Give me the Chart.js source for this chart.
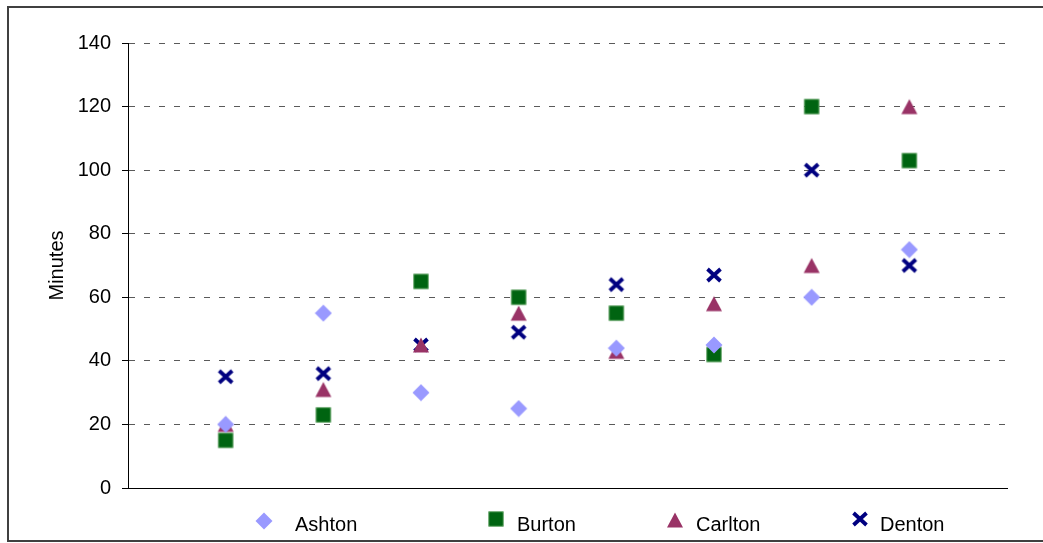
<!DOCTYPE html>
<html>
<head>
<meta charset="utf-8">
<title>Minutes by location</title>
<script src="https://cdn.jsdelivr.net/npm/chart.js@4/dist/chart.umd.min.js"></script>
<style>
  html, body { margin: 0; padding: 0; background: #ffffff; overflow: hidden; }
  #wrap { position: relative; width: 1043px; height: 543px; }
  canvas { display: block; }
</style>
</head>
<body>
<div id="wrap"><canvas id="chart" width="1043" height="543"></canvas></div>
<script>
// Eight observation slots along the x axis (no labels are shown for them)
const categories = [1, 2, 3, 4, 5, 6, 7, 8];

// Minutes recorded for each person
const ashton  = [20, 55, 30, 25, 44, 45, 60, 75];
const burton  = [15, 23, 65, 60, 55, 42, 120, 103];
const carlton = [20, 31, 45, 55, 43, 58, 70, 120];
const denton  = [35, 36, 45, 49, 64, 67, 100, 70];

// Y axis tick values
const yTicks = [0, 20, 40, 60, 80, 100, 120, 140];

const seriesNames = ['Ashton', 'Burton', 'Carlton', 'Denton'];
const seriesValues = [ashton, burton, carlton, denton];
const seriesColors = ['#9999ff', '#006411', '#993366', '#000080'];

// Marker glyphs, drawn once into small canvases
function makeMarker(kind, color) {
  const c = document.createElement('canvas');
  c.width = 18; c.height = 18;
  const g = c.getContext('2d');
  const m = 9;
  g.fillStyle = color;
  g.strokeStyle = color;
  if (kind === 'diamond') {
    g.beginPath();
    g.moveTo(m, m - 8.5); g.lineTo(m + 8.5, m); g.lineTo(m, m + 8.5); g.lineTo(m - 8.5, m);
    g.closePath(); g.fill();
  } else if (kind === 'square') {
    g.fillRect(m - 7.5, m - 7.5, 15, 15);
    g.strokeStyle = 'rgba(120,180,120,0.8)';
    g.lineWidth = 1;
    g.strokeRect(m - 7, m - 7, 14, 14);
    g.fillRect(m - 6.5, m - 6.5, 13, 13);
  } else if (kind === 'triangle') {
    g.beginPath();
    g.moveTo(m, m - 7.5); g.lineTo(m + 8, m + 7.5); g.lineTo(m - 8, m + 7.5);
    g.closePath(); g.fill();
  } else if (kind === 'cross') {
    g.lineWidth = 3.8;
    g.lineCap = 'butt';
    g.beginPath();
    g.moveTo(m - 6.5, m - 6); g.lineTo(m + 6.5, m + 6);
    g.moveTo(m + 6.5, m - 6); g.lineTo(m - 6.5, m + 6);
    g.stroke();
  }
  return c;
}
const markerKinds = ['diamond', 'square', 'triangle', 'cross'];
const markers = markerKinds.map((k, i) => makeMarker(k, seriesColors[i]));

const datasets = seriesNames.map((name, i) => ({
  label: name,
  data: seriesValues[i].map((v, j) => ({ x: categories[j], y: v })),
  pointStyle: markers[i],
  pointRadius: 8,
  pointHoverRadius: 8,
  backgroundColor: seriesColors[i],
  borderColor: seriesColors[i],
  showLine: false
}));

// Outer frame around the whole chart
const framePlugin = {
  id: 'frame',
  beforeDraw(chart) {
    const ctx = chart.ctx;
    ctx.save();
    ctx.fillStyle = '#ffffff';
    ctx.fillRect(0, 0, chart.width, chart.height);
    ctx.strokeStyle = '#404040';
    ctx.lineWidth = 2;
    ctx.strokeRect(8, 7, chart.width + 20, 534);
    ctx.restore();
  }
};

// Legend row below the plot
const legendRow = {
  id: 'legendRow',
  afterDraw(chart) {
    const ctx = chart.ctx;
    const markerX = [264, 496, 675, 860];
    const markerY = [521, 519, 520, 519];
    const textX = [295, 517, 696, 880];
    ctx.save();
    ctx.font = '20px "Liberation Sans", Arial, sans-serif';
    ctx.fillStyle = '#000000';
    ctx.textAlign = 'left';
    ctx.textBaseline = 'alphabetic';
    chart.data.datasets.forEach((ds, i) => {
      const img = ds.pointStyle;
      ctx.drawImage(img, Math.round(markerX[i] - img.width / 2), Math.round(markerY[i] - img.height / 2));
      ctx.fillText(ds.label, textX[i], 531);
    });
    ctx.restore();
  }
};

new Chart(document.getElementById('chart'), {
  type: 'scatter',
  data: { datasets },
  plugins: [framePlugin, legendRow],
  options: {
    responsive: false,
    animation: false,
    devicePixelRatio: 1,
    layout: { padding: { top: 43, right: 36, bottom: 55, left: 0 } },
    plugins: {
      legend: { display: false },
      tooltip: { enabled: false }
    },
    scales: {
      x: {
        type: 'linear',
        min: 0,
        max: categories.length + 1,
        ticks: { display: false },
        grid: { display: false, drawTicks: false },
        border: { display: true, color: '#000000', width: 1 },
        afterFit(s) { s.height = 0; }
      },
      y: {
        type: 'linear',
        min: yTicks[0],
        max: yTicks[yTicks.length - 1],
        afterBuildTicks(s) { s.ticks = yTicks.map(v => ({ value: v })); },
        ticks: {
          padding: 11,
          color: '#000000',
          font: { family: '"Liberation Sans", Arial, sans-serif', size: 20 }
        },
        grid: {
          color: '#5a5a5a',
          lineWidth: 1,
          tickLength: 6,
          tickColor: '#000000',
          tickBorderDash: [],
          drawTicks: true
        },
        border: { display: true, color: '#000000', width: 1, dash: [6, 9] },
        title: {
          display: true,
          text: 'Minutes',
          color: '#000000',
          font: { family: '"Liberation Sans", Arial, sans-serif', size: 20 },
          padding: { top: 45, bottom: 0 }
        },
        afterFit(s) { s.width = 128; }
      }
    }
  }
});
</script>
</body>
</html>
